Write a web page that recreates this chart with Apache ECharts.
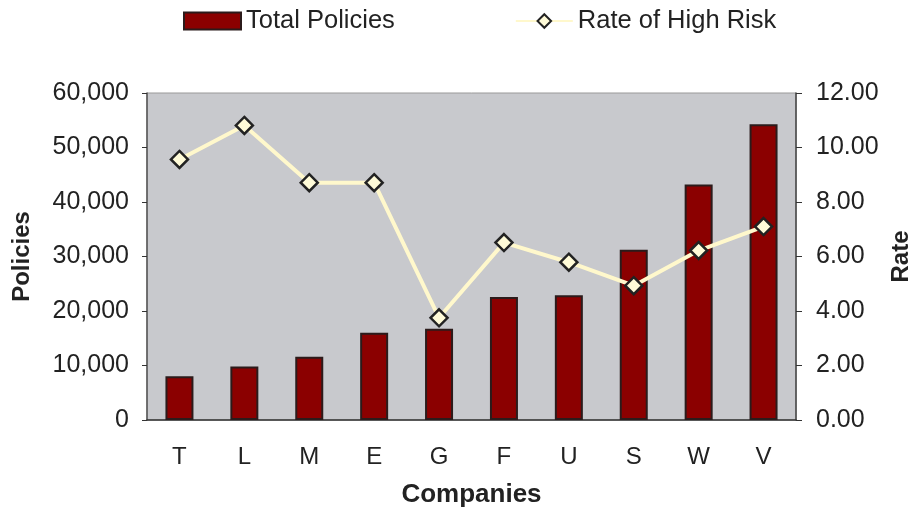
<!DOCTYPE html>
<html>
<head>
<meta charset="utf-8">
<script src="https://cdn.jsdelivr.net/npm/echarts@6/dist/echarts.min.js"></script>
<style>
html, body { margin: 0; padding: 0; background: #fff; }
#chart { width: 908px; height: 512px; }
</style>
</head>
<body>
<div id="chart"></div>
<script>
// values
var companies = ["T", "L", "M", "E", "G", "F", "U", "S", "W", "V"];
var totalPolicies = [8050, 9800, 11600, 16000, 16750, 22550, 22900, 31250, 43200, 54250];
var highRiskRate = [9.56, 10.81, 8.71, 8.71, 3.75, 6.51, 5.79, 4.93, 6.22, 7.10];
var policyTicks = [0, 10000, 20000, 30000, 40000, 50000, 60000];
var rateTicks = [0, 2, 4, 6, 8, 10, 12];

var fontFamily = "Liberation Sans, Arial, sans-serif";
var textColor = "#222";

var chart = echarts.init(document.getElementById("chart"));

var option = {
    animation: false,
    textStyle: { fontFamily: fontFamily, color: textColor },
    legend: {
        left: 178,
        top: 3,
        itemWidth: 57,
        itemHeight: 17,
        itemGap: 120,
        textStyle: { fontSize: 25.5, color: textColor, fontFamily: fontFamily },
        data: [
            { name: "Total Policies", icon: "rect" },
            { name: "Rate of High Risk" }
        ]
    },
    grid: {
        left: 147,
        right: 112,
        top: 93,
        bottom: 92,
        outerBoundsMode: "none",
        containLabel: false,
        show: true,
        backgroundColor: "#C8C9CD",
        borderColor: "#999",
        borderWidth: 1
    },
    xAxis: {
        type: "category",
        data: companies,
        boundaryGap: true,
        name: "Companies",
        nameLocation: "middle",
        nameGap: 62,
        nameTextStyle: { fontSize: 26, fontWeight: "bold", color: textColor },
        axisLine: { lineStyle: { color: "#333", width: 1.5 } },
        axisTick: { length: 7, lineStyle: { color: "#333" } },
        axisLabel: { fontSize: 24, color: textColor, margin: 25 }
    },
    yAxis: [
        {
            type: "value",
            min: policyTicks[0],
            max: policyTicks[policyTicks.length - 1],
            interval: policyTicks[1] - policyTicks[0],
            name: "Policies",
            nameLocation: "middle",
            nameRotate: 90,
            nameGap: 113,
            nameTextStyle: { fontSize: 24, fontWeight: "bold", color: textColor },
            axisLine: { show: true, lineStyle: { color: "#555", width: 1.5 } },
            axisTick: { show: true, length: 5, lineStyle: { color: "#333" } },
            splitLine: { show: false },
            axisLabel: {
                fontSize: 25,
                color: textColor,
                margin: 18,
                formatter: function (v) {
                    return v.toString().replace(/\B(?=(\d{3})+(?!\d))/g, ",");
                }
            }
        },
        {
            type: "value",
            position: "right",
            min: rateTicks[0],
            max: rateTicks[rateTicks.length - 1],
            interval: rateTicks[1] - rateTicks[0],
            name: "Rate",
            nameLocation: "middle",
            nameRotate: 90,
            nameGap: 89,
            nameTextStyle: { fontSize: 24, fontWeight: "bold", color: textColor },
            axisLine: { show: true, lineStyle: { color: "#444", width: 1.5 } },
            axisTick: { show: true, length: 6, lineStyle: { color: "#333" } },
            splitLine: { show: false },
            axisLabel: {
                fontSize: 25,
                color: textColor,
                margin: 20,
                formatter: function (v) {
                    return v.toFixed(2);
                }
            }
        }
    ],
    series: [
        {
            name: "Total Policies",
            type: "bar",
            yAxisIndex: 0,
            barWidth: 28,
            data: totalPolicies,
            itemStyle: { color: "#8B0000", borderColor: "#2b1b1b", borderWidth: 2 }
        },
        {
            name: "Rate of High Risk",
            type: "line",
            yAxisIndex: 1,
            data: highRiskRate,
            symbol: "diamond",
            symbolSize: 17,
            lineStyle: { color: "#FFF8CC", width: 4 },
            itemStyle: { color: "#FFFBD8", borderColor: "#222", borderWidth: 2.5 },
            z: 3
        }
    ]
};

chart.setOption(option);
</script>
</body>
</html>
